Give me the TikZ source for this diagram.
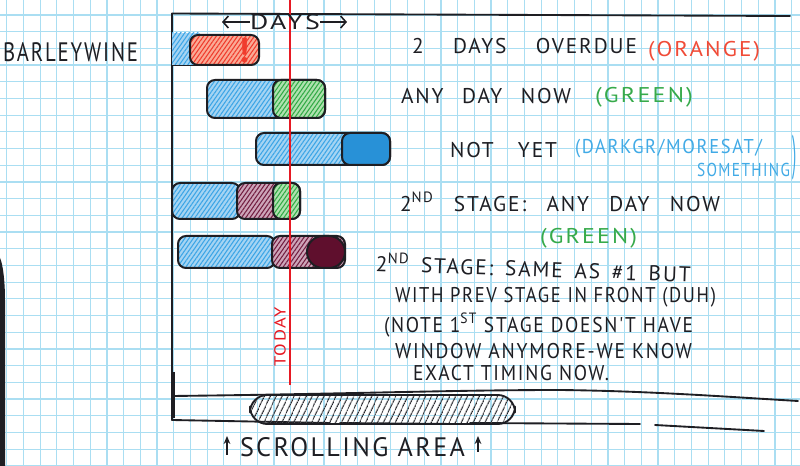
\documentclass[tikz,border=0pt]{standalone}
\usepackage{fontspec}
\usepackage{graphicx}
\usetikzlibrary{patterns.meta,arrows.meta}

\newfontfamily\hand[LetterSpace=9]{PT Sans}

% pen and marker colours
\definecolor{ink}{RGB}{30,30,35}
\definecolor{gridc}{RGB}{170,222,242}
\definecolor{hblue}{RGB}{60,165,230}
\definecolor{bluebase}{RGB}{165,212,243}
\definecolor{hred}{RGB}{240,60,45}
\definecolor{redbase}{RGB}{250,170,150}
\definecolor{hgreen}{RGB}{50,170,70}
\definecolor{greenbase}{RGB}{175,226,175}
\definecolor{hmaroon}{RGB}{115,30,65}
\definecolor{maroonbase}{RGB}{205,165,185}
\definecolor{dblue}{RGB}{40,145,215}
\definecolor{dmaroon}{RGB}{95,15,45}
\definecolor{todayred}{RGB}{230,25,35}
\definecolor{orangetxt}{RGB}{240,75,55}
\definecolor{greentxt}{RGB}{55,170,75}
\definecolor{bluetxt}{RGB}{65,170,230}

% one drawing unit = one pixel of the sheet
\newdimen\pxu \pxu=0.75pt
\newdimen\hwdim
\newsavebox\hwbox
% a line of lettering spread (or squeezed) to a given width
\newcommand\hw[2]{\hwdim=#1\pxu\relax\sbox\hwbox{#2}%
  \ifdim\wd\hwbox<\hwdim\makebox[\hwdim][s]{#2}\else\resizebox{\hwdim}{\height}{#2}\fi}
% a single word stretched to a given width
\newcommand\hs[2]{\hwdim=#1\pxu\relax\resizebox{\hwdim}{\height}{#2}}

\begin{document}
\begin{tikzpicture}[x=0.75pt,y=-0.75pt,
  every node/.style={inner sep=0pt,outer sep=0pt},
  gridln/.style={draw=gridc,line width=0.9pt},
  inkln/.style={draw=ink,line width=1.4pt,line cap=round,line join=round},
  segbox/.style={draw=ink,line width=1.5pt,rounded corners=6pt},
  hatchblue/.style={preaction={fill=bluebase},pattern={Lines[angle=55,distance=2.6pt,line width=0.8pt]},pattern color=hblue},
  hatchred/.style={preaction={fill=redbase},pattern={Lines[angle=55,distance=2.6pt,line width=0.8pt]},pattern color=hred},
  hatchgreen/.style={preaction={fill=greenbase},pattern={Lines[angle=55,distance=2.6pt,line width=0.8pt]},pattern color=hgreen},
  hatchmaroon/.style={preaction={fill=maroonbase},pattern={Lines[angle=55,distance=2.6pt,line width=0.8pt]},pattern color=hmaroon},
  todayln/.style={draw=todayred,line width=2.2pt},
  barb/.style={draw=ink,line width=1.2pt,-{Straight Barb[length=4pt,width=9pt]}},
  uparr/.style={draw=ink,line width=1.3pt,-{Stealth[length=6pt,width=5pt]}},
  txt/.style={anchor=west,text=ink,font=\hand\fontsize{16}{16}\selectfont},
]
\useasboundingbox (0,0) rectangle (800,466);
\fill[white] (0,0) rectangle (800,466);

% graph paper
\foreach \i in {0,...,47} \draw[gridln] ({6.7+16.7*\i},0) -- ({6.7+16.7*\i},466);
\foreach \j in {0,...,27} \draw[gridln] (0,{15+16.7*\j}) -- (800,{15+16.7*\j});

% edge of the sheet underneath
\fill[ink] (0,258) .. controls (3,264) and (5,282) .. (5,300) -- (5,466) -- (0,466) -- cycle;

% chart frame
\draw[inkln] (172,13.5) -- (790,16);
\draw[inkln] (172,13.5) -- (172,420);
\draw[ink,line width=2.4pt] (173,372) -- (173,418);

% row 1: overdue
\fill[hatchblue] (172,33) rectangle (200,65);
\draw[segbox,hatchred] (190,35) rectangle (259,65);
\draw[inkln] (172,65.5) -- (200,65.5);
\node[text=hred,font=\hand\bfseries\fontsize{26}{26}\selectfont] (bang) at (244,51) {!};

% row 2: any day now
\draw[segbox,hatchblue] (207,80) rectangle (325,118);
\draw[segbox,hatchgreen] (273,80) rectangle (325,118);

% row 3: not yet
\draw[segbox,hatchblue] (256,133) rectangle (390,165);
\draw[segbox,fill=dblue] (342,133) rectangle (390,165);

% row 4: second stage, any day now
\draw[segbox,hatchblue] (172,183) rectangle (240,219);
\draw[segbox,hatchmaroon] (237,183) rectangle (300,219);
\draw[segbox,hatchgreen] (273,183) rectangle (300,219);

% row 5: second stage after a finished first stage
\draw[segbox,hatchblue] (178,236) rectangle (275,268);
\draw[segbox,hatchmaroon] (272,236) rectangle (345,268);
\draw[segbox,fill=dmaroon,rounded corners=12pt] (307,236) rectangle (345,268);

% today marker
\coordinate (todaytop) at (290,0);
\coordinate (todaybot) at (290,385);
\draw[todayln] (todaytop) -- (todaybot);
\node[rotate=90,text=todayred,font=\hand\fontsize{12}{12}\selectfont] (today) at (280,337) {\hs{60}{TODAY}};

% days header
\node[text=ink,font=\hand\fontsize{16}{16}\selectfont] (days) at (285,22) {\hs{70}{DAYS}};
\coordinate (dl) at (222,22);
\coordinate (dr) at (347,22);
\draw[barb] (days.west) -- (dl);
\draw[barb] (days.east) -- (dr);

% row label
\node[txt,font=\hand\fontsize{20}{20}\selectfont] (barley) at (3,52) {\hs{135}{BARLEYWINE}};

% notes
\node[txt] (overdue) at (412,46) {\hw{225}{2 DAYS OVERDUE}};
\node[txt,text=orangetxt] (orange) at (648,51) {\hs{112}{(ORANGE)}};
\node[txt] (anyday) at (401,96) {\hw{170}{ANY DAY NOW}};
\node[txt,text=greentxt] (greenA) at (595,97) {\hs{98}{(GREEN)}};
\node[txt] (notyet) at (450,150) {\hw{107}{NOT YET}};
\node[txt,text=bluetxt,font=\hand\fontsize{15}{15}\selectfont] (darkA) at (575,149) {\hs{187}{(DARKGR/MORESAT/}};
\node[txt,text=bluetxt,font=\hand\fontsize{14}{14}\selectfont] (darkB) at (697,170) {\hs{93}{SOMETHING}};
\node[text=bluetxt,font=\hand\fontsize{14}{14}\selectfont] (darkC) at (795,158) {\scalebox{0.8}[2.6]{)}};
\node[txt] (stageA) at (400,202) {\hw{320}{2\textsuperscript{ND} STAGE: ANY DAY NOW}};
\node[txt,text=greentxt] (greenB) at (540,238) {\hs{97}{(GREEN)}};
\node[txt,rotate=-2] (stageB) at (376,262) {\hw{315}{2\textsuperscript{ND} STAGE: SAME AS \#1 BUT}};
\node[txt] (withprev) at (395,297) {\hw{321}{WITH PREV STAGE IN FRONT (DUH)}};
\node[txt] (noteA) at (384,325) {\hw{309}{(NOTE 1\textsuperscript{ST} STAGE DOESN'T HAVE}};
\node[txt] (noteB) at (395,351) {\hw{297}{WINDOW ANYMORE-WE KNOW}};
\node[txt] (noteC) at (413,373) {\hw{196}{EXACT TIMING NOW.}};

% scrolling strip
\draw[inkln] (172,396) .. controls (350,394) and (450,390) .. (560,390) .. controls (650,391) and (730,397) .. (798,401);
\draw[inkln] (172,420) -- (330,423);
\draw[inkln] (340,423) -- (454,424);
\draw[inkln] (470,423) -- (640,424);
\draw[inkln] (655,425) -- (764,431);
\draw[inkln,rounded corners=13pt,pattern={Lines[angle=65,distance=4pt,line width=0.9pt]},pattern color=ink] (250,395) rectangle (515,424);

\node[txt,font=\hand\fontsize{20}{20}\selectfont] (scroll) at (240,447) {\hw{225}{SCROLLING AREA}};
\coordinate (ualow) at (227,455);
\coordinate (uatop) at (227,436);
\coordinate (ublow) at (478,452);
\coordinate (ubtop) at (478,436);
\draw[uparr] (ualow) -- (uatop);
\draw[uparr] (ublow) -- (ubtop);
\end{tikzpicture}
\end{document}
